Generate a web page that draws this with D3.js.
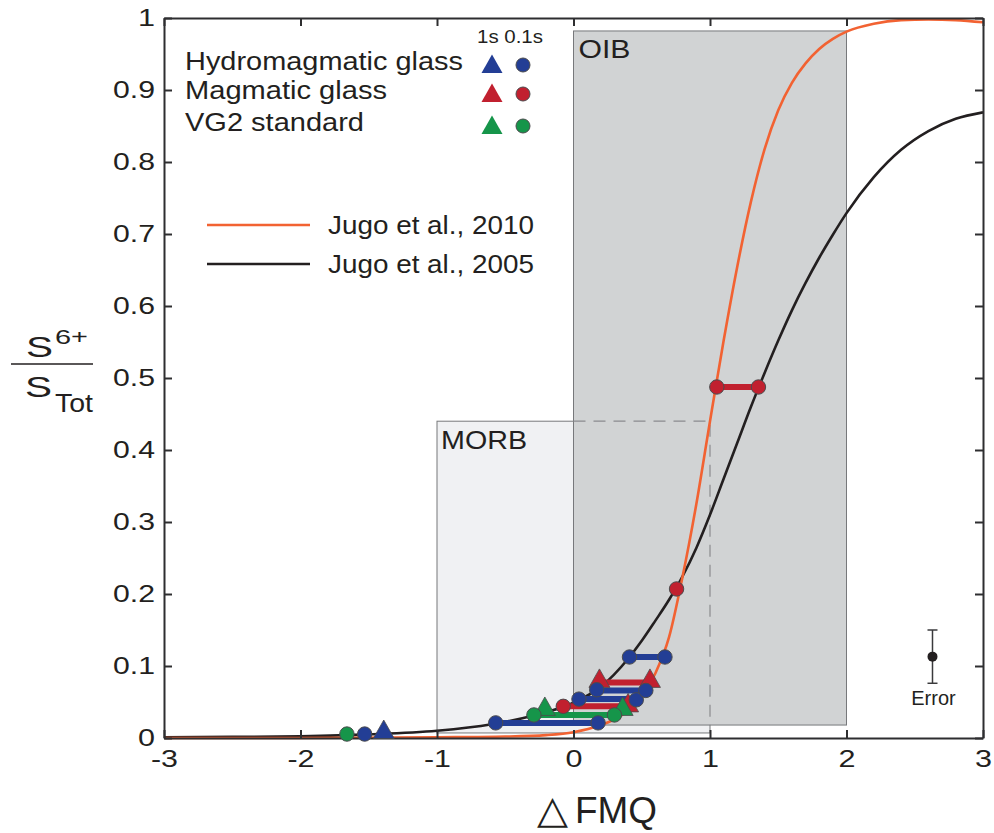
<!DOCTYPE html>
<html>
<head>
<meta charset="utf-8">
<script src="https://cdn.jsdelivr.net/npm/d3@7/dist/d3.min.js"></script>
<style>
  html, body { margin: 0; padding: 0; background: #fff; }
  svg { display: block; font-family: "Liberation Sans", Arial, Helvetica, sans-serif; }
</style>
</head>
<body>
<svg id="chart" width="994" height="833"></svg>
<script>
// ---------- DATA ----------
const xTickValues = [-3, -2, -1, 0, 1, 2, 3];
const xTickLabels = ["-3", "-2", "-1", "0", "1", "2", "3"];
const yTickValues = [0, 0.1, 0.2, 0.3, 0.4, 0.5, 0.6, 0.7, 0.8, 0.9, 1];
const yTickLabels = ["0", "0.1", "0.2", "0.3", "0.4", "0.5", "0.6", "0.7", "0.8", "0.9", "1"];

// Jugo et al., 2010 curve
const jugo2010X = [-3, -2, -1, -0.5, -0.2, 0, 0.2, 0.3, 0.4, 0.5, 0.6, 0.7, 0.8, 0.9, 1.0, 1.1, 1.2, 1.3, 1.4, 1.5, 1.6, 1.7, 1.8, 1.9, 2.0, 2.2, 2.4, 2.6, 2.8, 3.0];
const jugo2010Y = [0, 0, 0.001, 0.002, 0.004, 0.008, 0.018, 0.026, 0.038, 0.058, 0.09, 0.14, 0.225, 0.325, 0.44, 0.552, 0.655, 0.745, 0.818, 0.872, 0.91, 0.937, 0.957, 0.971, 0.981, 0.992, 0.997, 0.998, 0.997, 0.994];

// Jugo et al., 2005 curve
const jugo2005X = [-3, -2.5, -2, -1.5, -1, -0.6, -0.3, 0, 0.2, 0.4, 0.5, 0.6, 0.7, 0.8, 0.9, 1.0, 1.1, 1.2, 1.3, 1.4, 1.5, 1.6, 1.7, 1.8, 1.9, 2.0, 2.2, 2.4, 2.6, 2.8, 3.0];
const jugo2005Y = [0.001, 0.0015, 0.0025, 0.005, 0.01, 0.019, 0.031, 0.049, 0.071, 0.11, 0.135, 0.163, 0.192, 0.225, 0.264, 0.31, 0.36, 0.41, 0.46, 0.507, 0.552, 0.594, 0.632, 0.667, 0.699, 0.729, 0.779, 0.817, 0.843, 0.86, 0.869];

// Regions
const regionNames = ["MORB", "OIB"];
const regionX0 = [-1, 0];
const regionX1 = [1, 2];
const regionY0 = [0.007, 0.018];
const regionY1 = [0.44, 0.982];

// Sample groups
const groupNames = ["Hydromagmatic glass", "Magmatic glass", "VG2 standard"];
const shapeNames = ["1s", "0.1s"];

// Measured points: ΔFMQ, S6+/STot, shape
const magmaticPoints = [
  { x: 1.05, y: 0.4875, shape: "circle" }, { x: 1.355, y: 0.4875, shape: "circle" },
  { x: 0.755, y: 0.207, shape: "circle" },
  { x: 0.19, y: 0.08, shape: "triangle" }, { x: 0.56, y: 0.08, shape: "triangle" },
  { x: -0.075, y: 0.044, shape: "circle" }, { x: 0.40, y: 0.046, shape: "triangle" }
];
const vg2Points = [
  { x: -1.66, y: 0.0055, shape: "circle" },
  { x: -0.21, y: 0.041, shape: "triangle" }, { x: 0.36, y: 0.041, shape: "triangle" },
  { x: -0.29, y: 0.032, shape: "circle" }, { x: 0.30, y: 0.032, shape: "circle" }
];
const hydroPoints = [
  { x: -1.53, y: 0.0055, shape: "circle" },
  { x: -1.39, y: 0.009, shape: "triangle" },
  { x: -0.57, y: 0.021, shape: "circle" }, { x: 0.18, y: 0.021, shape: "circle" },
  { x: 0.04, y: 0.054, shape: "circle" }, { x: 0.46, y: 0.053, shape: "circle" },
  { x: 0.17, y: 0.067, shape: "circle" }, { x: 0.53, y: 0.066, shape: "circle" },
  { x: 0.41, y: 0.1125, shape: "circle" }, { x: 0.67, y: 0.1125, shape: "circle" }
];

// Horizontal ranges between the two curve solutions
const magmaticBars = [
  { x1: 1.05, x2: 1.355, y: 0.4875 },
  { x1: 0.19, x2: 0.56, y: 0.077 },
  { x1: -0.075, x2: 0.40, y: 0.044 }
];
const vg2Bars = [
  { x1: -0.29, x2: 0.30, y: 0.032 }
];
const hydroBars = [
  { x1: -0.57, x2: 0.18, y: 0.021 },
  { x1: 0.04, x2: 0.46, y: 0.054 },
  { x1: 0.17, x2: 0.53, y: 0.066 },
  { x1: 0.41, x2: 0.67, y: 0.1125 }
];

// Typical error
const errorPoint = { x: 2.63, y: 0.113, err: 0.037 };

// ---------- STYLE / LAYOUT ----------
const colBlue = "#233e95", colRed = "#c1202f", colGreen = "#16954a";
const colOrange = "#f26232", colBlack = "#231f20";
const groupColors = [colBlue, colRed, colGreen];
const textCol = "#231f20";

const svg = d3.select("#chart");
const x = d3.scaleLinear().domain([-3, 3]).range([164, 983]);
const y = d3.scaleLinear().domain([0, 1]).range([738, 18]);

// Regions: MORB under, OIB over
const regions = regionNames.map((n, i) => ({ name: n, x0: regionX0[i], x1: regionX1[i], y0: regionY0[i], y1: regionY1[i] }));
const morb = regions[0], oib = regions[1];
svg.append("rect")
  .attr("x", x(morb.x0)).attr("y", y(morb.y1))
  .attr("width", x(morb.x1) - x(morb.x0)).attr("height", y(morb.y0) - y(morb.y1))
  .attr("fill", "#f0f1f3").attr("stroke", "#77787b").attr("stroke-width", 1);
svg.append("rect")
  .attr("x", x(oib.x0)).attr("y", y(oib.y1))
  .attr("width", x(oib.x1) - x(oib.x0)).attr("height", y(oib.y0) - y(oib.y1))
  .attr("fill", "#d1d3d4").attr("stroke", "#77787b").attr("stroke-width", 1);
// dashed MORB outline inside OIB
svg.append("path")
  .attr("d", `M${x(oib.x0)},${y(morb.y1)} L${x(morb.x1)},${y(morb.y1)} L${x(morb.x1)},${y(oib.y0)}`)
  .attr("fill", "none").attr("stroke", "#8a8b8e").attr("stroke-width", 1.2)
  .attr("stroke-dasharray", "12,8");

svg.append("text").attr("x", x(morb.x0) + 4).attr("y", y(morb.y1) + 28)
  .attr("font-size", 26).attr("fill", textCol).attr("textLength", 86).attr("lengthAdjust", "spacingAndGlyphs")
  .text(morb.name);
svg.append("text").attr("x", x(oib.x0) + 5).attr("y", y(oib.y1) + 27)
  .attr("font-size", 26).attr("fill", textCol).attr("textLength", 52).attr("lengthAdjust", "spacingAndGlyphs")
  .text(oib.name);

// Curves
svg.append("clipPath").attr("id", "plotclip").append("rect")
  .attr("x", x(-3)).attr("y", y(1) - 2).attr("width", x(3) - x(-3)).attr("height", y(0) - y(1) + 4);
const line = d3.line().x(d => x(d[0])).y(d => y(d[1])).curve(d3.curveMonotoneX);
const c2005 = jugo2005X.map((v, i) => [v, jugo2005Y[i]]);
const c2010 = jugo2010X.map((v, i) => [v, jugo2010Y[i]]);
const curves = svg.append("g").attr("clip-path", "url(#plotclip)");
curves.append("path").attr("d", line(c2005)).attr("fill", "none").attr("stroke", colBlack).attr("stroke-width", 2.6);
curves.append("path").attr("d", line(c2010)).attr("fill", "none").attr("stroke", colOrange).attr("stroke-width", 2.6);

// Axes (frame with inward ticks)
const axB = svg.append("g").attr("transform", `translate(0,${y(0)})`)
  .call(d3.axisBottom(x).tickValues(xTickValues).tickFormat((d, i) => xTickLabels[i]).tickSizeInner(-8).tickSizeOuter(0).tickPadding(12));
const axT = svg.append("g").attr("transform", `translate(0,${y(1)})`)
  .call(d3.axisTop(x).tickValues(xTickValues).tickFormat("").tickSizeInner(-8).tickSizeOuter(0));
const axL = svg.append("g").attr("transform", `translate(${x(-3)},0)`)
  .call(d3.axisLeft(y).tickValues(yTickValues).tickFormat((d, i) => yTickLabels[i]).tickSizeInner(-8).tickSizeOuter(0).tickPadding(9));
const axR = svg.append("g").attr("transform", `translate(${x(3)},0)`)
  .call(d3.axisRight(y).tickValues(yTickValues).tickFormat("").tickSizeInner(-8).tickSizeOuter(0));
[axB, axT, axL, axR].forEach(g => {
  g.selectAll("path.domain").attr("stroke", "#2e2e30").attr("stroke-width", 2);
  g.selectAll(".tick line").attr("stroke", "#2e2e30").attr("stroke-width", 2);
  g.selectAll("text").attr("font-family", "'Liberation Sans', Arial, sans-serif").attr("font-size", 24).attr("fill", textCol);
});
// tick labels are drawn horizontally widened in the original
axL.selectAll(".tick text").each(function () {
  const t = d3.select(this);
  t.attr("textLength", t.text().length > 1 ? 42 : 17).attr("lengthAdjust", "spacingAndGlyphs");
});
axB.selectAll(".tick text").each(function () {
  const t = d3.select(this);
  t.attr("textLength", t.text().length > 1 ? 27 : 17).attr("lengthAdjust", "spacingAndGlyphs");
});

// Bars
function drawBars(bars, color) {
  svg.append("g").selectAll("line").data(bars).join("line")
    .attr("x1", d => x(d.x1)).attr("x2", d => x(d.x2))
    .attr("y1", d => y(d.y)).attr("y2", d => y(d.y))
    .attr("stroke", color).attr("stroke-width", 6);
}
drawBars(magmaticBars, colRed);
drawBars(vg2Bars, colGreen);
drawBars(hydroBars, colBlue);

// Markers
const triPath = (cx, cy) => `M${cx},${cy - 11.5} L${cx + 10.5},${cy + 7} L${cx - 10.5},${cy + 7} Z`;
function drawPoints(points, color) {
  const g = svg.append("g");
  points.filter(d => d.shape === "triangle").forEach(d => {
    g.append("path").attr("d", triPath(x(d.x), y(d.y))).attr("fill", color)
      .attr("stroke", "#4b4b4d").attr("stroke-width", 0.8);
  });
  points.filter(d => d.shape === "circle").forEach(d => {
    g.append("circle").attr("cx", x(d.x)).attr("cy", y(d.y)).attr("r", 7.2)
      .attr("fill", color).attr("stroke", "#4b4b4d").attr("stroke-width", 1);
  });
}
drawPoints(magmaticPoints, colRed);
drawPoints(vg2Points, colGreen);
drawPoints(hydroPoints, colBlue);

// Error bar
const eg = svg.append("g").attr("stroke", "#3a3a3c").attr("stroke-width", 1.5);
eg.append("line").attr("x1", x(errorPoint.x)).attr("x2", x(errorPoint.x))
  .attr("y1", y(errorPoint.y + errorPoint.err)).attr("y2", y(errorPoint.y - errorPoint.err));
[errorPoint.y + errorPoint.err, errorPoint.y - errorPoint.err].forEach(v => {
  eg.append("line").attr("x1", x(errorPoint.x) - 5).attr("x2", x(errorPoint.x) + 5).attr("y1", y(v)).attr("y2", y(v));
});
svg.append("circle").attr("cx", x(errorPoint.x)).attr("cy", y(errorPoint.y)).attr("r", 5).attr("fill", textCol);
svg.append("text").attr("x", x(errorPoint.x) + 1).attr("y", y(errorPoint.y - errorPoint.err) + 22)
  .attr("text-anchor", "middle").attr("font-size", 20).attr("fill", textCol).text("Error");

// Legend (groups)
svg.append("text").attr("x", 477).attr("y", 43).attr("font-size", 18).attr("fill", textCol)
  .attr("textLength", 66).attr("lengthAdjust", "spacingAndGlyphs").text(shapeNames.join(" "));
const legTextW = [278, 202, 179];
const legBase = [70, 99, 131];
groupNames.forEach((n, i) => {
  svg.append("text").attr("x", 185).attr("y", legBase[i]).attr("font-size", 25).attr("fill", textCol)
    .attr("textLength", legTextW[i]).attr("lengthAdjust", "spacingAndGlyphs").text(n);
  svg.append("path").attr("d", triPath(492, legBase[i] - 4)).attr("fill", groupColors[i]);
  svg.append("circle").attr("cx", 523).attr("cy", legBase[i] - 5).attr("r", 7)
    .attr("fill", groupColors[i]).attr("stroke", "#4b4b4d").attr("stroke-width", 1);
});

// Legend (curves)
const curveLegend = [["Jugo et al., 2010", colOrange, 225], ["Jugo et al., 2005", colBlack, 264]];
curveLegend.forEach(([t, c, yy]) => {
  svg.append("line").attr("x1", 207).attr("x2", 310).attr("y1", yy).attr("y2", yy).attr("stroke", c).attr("stroke-width", 2.6);
  svg.append("text").attr("x", 328).attr("y", yy + 9).attr("font-size", 26).attr("fill", textCol)
    .attr("textLength", 206).attr("lengthAdjust", "spacingAndGlyphs").text(t);
});

// Y axis label (fraction)
const yl = svg.append("g").attr("fill", textCol);
yl.append("text").attr("x", 26).attr("y", 357).attr("font-size", 30)
  .attr("textLength", 27).attr("lengthAdjust", "spacingAndGlyphs").text("S");
yl.append("text").attr("x", 55).attr("y", 344).attr("font-size", 20)
  .attr("textLength", 33).attr("lengthAdjust", "spacingAndGlyphs").text("6+");
yl.append("line").attr("x1", 11).attr("x2", 93).attr("y1", 364).attr("y2", 364).attr("stroke", textCol).attr("stroke-width", 1.5);
yl.append("text").attr("x", 25).attr("y", 397).attr("font-size", 30)
  .attr("textLength", 27).attr("lengthAdjust", "spacingAndGlyphs").text("S");
yl.append("text").attr("x", 55).attr("y", 412).attr("font-size", 26)
  .attr("textLength", 38).attr("lengthAdjust", "spacingAndGlyphs").text("Tot");

// X axis label
svg.append("text").attr("x", 537).attr("y", 823).attr("fill", textCol)
  .attr("font-family", "DejaVu Sans").attr("font-size", 39).attr("font-weight", 200)
  .attr("textLength", 31).attr("lengthAdjust", "spacingAndGlyphs").text("△");
svg.append("text").attr("x", 575).attr("y", 823).attr("fill", textCol)
  .attr("font-size", 37).attr("textLength", 82).attr("lengthAdjust", "spacingAndGlyphs").text("FMQ");
</script>
</body>
</html>
